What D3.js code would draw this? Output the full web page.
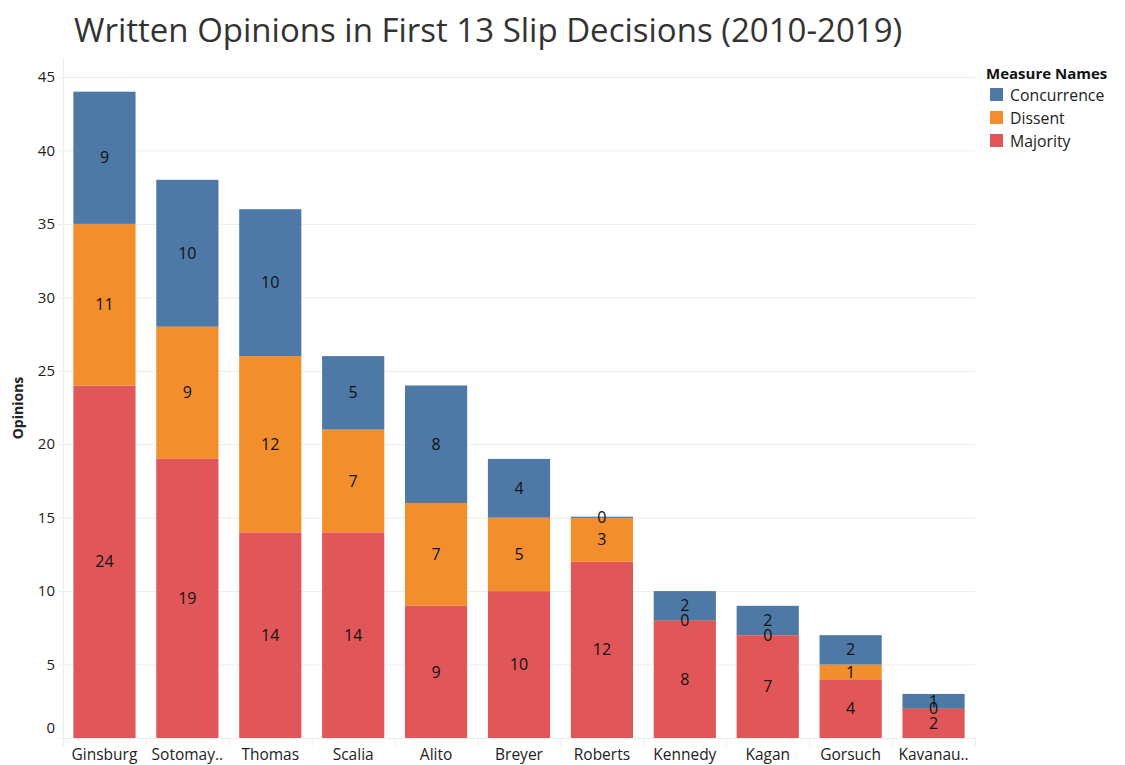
<!DOCTYPE html>
<html lang="en">
<head>
    <meta charset="UTF-8">
    <title>Written Opinions</title>
    <script src="https://d3js.org/d3.v7.min.js"></script>
    <style>
        body { margin: 0; background: #fff; }
        text { font-family: "Open Sans", "Noto Sans", sans-serif; }
    </style>
</head>
<body>
    <div id="chart"></div>
    <script>
        // ---------------- data ----------------
        var justices = ["Ginsburg", "Sotomayor", "Thomas", "Scalia", "Alito", "Breyer", "Roberts", "Kennedy", "Kagan", "Gorsuch", "Kavanaugh"];
        var tickLabels = ["Ginsburg", "Sotomay..", "Thomas", "Scalia", "Alito", "Breyer", "Roberts", "Kennedy", "Kagan", "Gorsuch", "Kavanau.."];
        var majority = [24, 19, 14, 14, 9, 10, 12, 8, 7, 4, 2];
        var dissent = [11, 9, 12, 7, 7, 5, 3, 0, 0, 1, 0];
        var concurrence = [9, 10, 10, 5, 8, 4, 0, 2, 2, 2, 1];
        var measures = ["Majority", "Dissent", "Concurrence"];
        var legendOrder = ["Concurrence", "Dissent", "Majority"];
        var yTicks = [0, 5, 10, 15, 20, 25, 30, 35, 40, 45];

        var couleurs = { "Concurrence": "#4e79a7", "Dissent": "#f28e2b", "Majority": "#e15759" };

        // table for the stack
        var table = justices.map(function(j, i) {
            return { justice: j, Majority: majority[i], Dissent: dissent[i], Concurrence: concurrence[i] };
        });

        var W = 1125, H = 765;
        var pLeft = 63, pRight = 975, pTop = 77, pBottom = 738;

        var svg = d3.select("#chart").append("svg").attr("width", W).attr("height", H);

        var x = d3.scaleBand().domain(justices).range([pLeft, pRight]).paddingInner(0.25).paddingOuter(0.125);
        var y = d3.scaleLinear().domain([0, 45]).range([pBottom, pTop]);

        // title
        svg.append("text").attr("x", 74).attr("y", 42)
            .attr("font-size", 33).attr("fill", "#333")
            .text("Written Opinions in First 13 Slip Decisions (2010-2019)");

        // gridlines
        svg.append("g").selectAll("line").data(yTicks.slice(1)).join("line")
            .attr("x1", 58).attr("x2", pRight)
            .attr("y1", d => y(d) + 0.5).attr("y2", d => y(d) + 0.5)
            .attr("stroke", "#ececec");

        // y axis line
        svg.append("line").attr("x1", pLeft + 0.5).attr("x2", pLeft + 0.5)
            .attr("y1", 58).attr("y2", pBottom + 8).attr("stroke", "#ececec");

        // y tick labels
        svg.append("g").selectAll("text").data(yTicks).join("text")
            .attr("x", 55).attr("y", d => d == 0 ? y(d) - 10 : y(d))
            .attr("dy", "0.35em").attr("text-anchor", "end")
            .attr("font-size", 15).attr("fill", "#222")
            .text(d => d);

        // y title
        svg.append("text").attr("transform", "translate(23,408) rotate(-90)")
            .attr("text-anchor", "middle").attr("font-size", 14).attr("font-weight", "bold")
            .attr("fill", "#222").text("Opinions");

        // stacked bars
        var series = d3.stack().keys(measures)(table);
        var g = svg.append("g");
        series.forEach(function(s) {
            g.selectAll(null).data(s).join("rect")
                .attr("x", d => x(d.data.justice))
                .attr("width", x.bandwidth())
                .attr("y", d => y(d[1]) - (d[1] == d[0] ? 1 : 0))
                .attr("height", d => Math.max(1.2, y(d[0]) - y(d[1])))
                .attr("fill", couleurs[s.key]);
        });
        // labels
        series.forEach(function(s) {
            g.selectAll(null).data(s).join("text")
                .attr("x", d => x(d.data.justice) + x.bandwidth() / 2)
                .attr("y", d => (y(d[0]) + y(d[1])) / 2)
                .attr("dy", "0.35em").attr("text-anchor", "middle")
                .attr("font-size", 16).attr("fill", "#111")
                .text(d => d.data[s.key]);
        });

        // bottom axis line and separators
        svg.append("line").attr("x1", 58).attr("x2", pRight)
            .attr("y1", pBottom + 0.5).attr("y2", pBottom + 0.5).attr("stroke", "#ececec");
        var step = x.step();
        svg.append("g").selectAll("line").data(d3.range(justices.length + 1)).join("line")
            .attr("x1", d => pLeft + d * step + 0.5).attr("x2", d => pLeft + d * step + 0.5)
            .attr("y1", pBottom).attr("y2", pBottom + 8).attr("stroke", "#ececec");

        // category labels
        svg.append("g").selectAll("text").data(justices).join("text")
            .attr("x", d => x(d) + x.bandwidth() / 2).attr("y", 755)
            .attr("dy", "0.35em").attr("text-anchor", "middle")
            .attr("font-size", 15.5).attr("fill", "#222")
            .text((d, i) => tickLabels[i]);

        // legend
        var leg = svg.append("g").attr("transform", "translate(986,0)");
        leg.append("text").attr("x", 0).attr("y", 79).attr("font-size", 15)
            .attr("font-weight", "bold").attr("fill", "#111").text("Measure Names");
        legendOrder.forEach(function(m, i) {
            leg.append("rect").attr("x", 4).attr("y", 88 + i * 23).attr("width", 13).attr("height", 13)
                .attr("fill", couleurs[m]);
            leg.append("text").attr("x", 24).attr("y", 95 + i * 23).attr("dy", "0.35em")
                .attr("font-size", 15.8).attr("fill", "#222").text(m);
        });
    </script>
</body>
</html>
